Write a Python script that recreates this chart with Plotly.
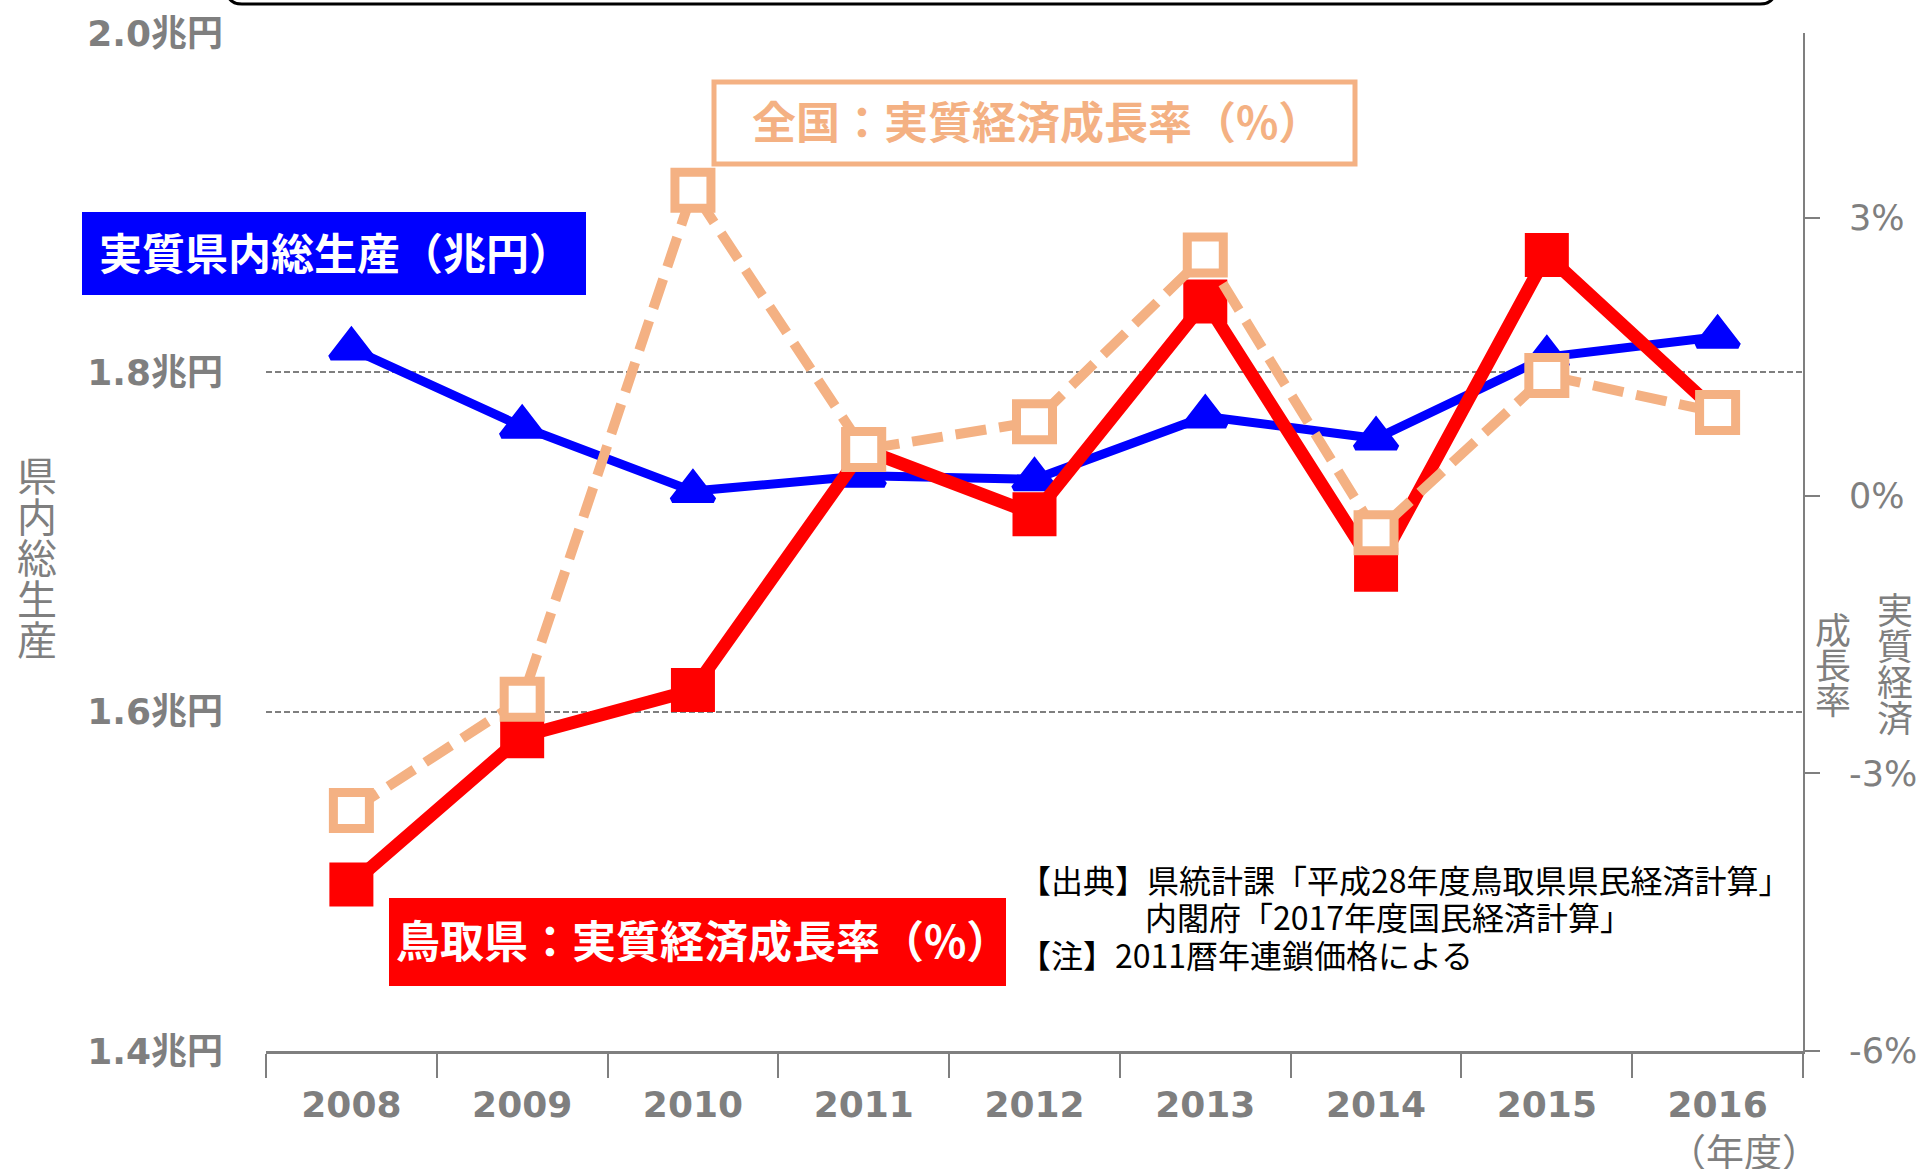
import plotly.graph_objects as go

# --- data ---
years = ["2008", "2009", "2010", "2011", "2012", "2013", "2014", "2015", "2016"]
gdp_trillion = [1.814, 1.768, 1.730, 1.739, 1.737, 1.774, 1.761, 1.809, 1.821]   # 実質県内総生産（兆円）
tottori_growth = [-4.2, -2.6, -2.1, 0.5, -0.2, 2.1, -0.8, 2.6, 0.9]            # 鳥取県 実質経済成長率（%）
japan_growth = [-3.4, -2.2, 3.3, 0.5, 0.8, 2.6, -0.4, 1.3, 0.9]                # 全国 実質経済成長率（%）

left_ticks = [1.4, 1.6, 1.8, 2.0]
left_labels = ["1.4兆円", "1.6兆円", "1.8兆円", "2.0兆円"]
right_ticks = [-6, -3, 0, 3]
right_labels = ["-6%", "-3%", "0%", "3%"]

W, H = 1926, 1169
PLOT_L, PLOT_R, PLOT_T, PLOT_B = 266, 1803, 33, 1051   # plot area in page pixels
L, T, R, B = PLOT_L, PLOT_T, W - PLOT_R, H - PLOT_B
PW, PH = PLOT_R - PLOT_L, PLOT_B - PLOT_T

GRAY = "#7f7f7f"
BLUE = "#0000FF"
RED = "#FF0000"
ORANGE = "#F4B183"
JP = "Noto Sans CJK JP"
NUM = "DejaVu Sans, Noto Sans CJK JP"


def px(x):
    return (x - PLOT_L) / PW


def py(y):
    return (PLOT_B - y) / PH


fig = go.Figure()

fig.add_trace(go.Scatter(
    x=years, y=gdp_trillion, yaxis="y", mode="lines+markers",
    line=dict(color=BLUE, width=9),
    marker=dict(symbol="triangle-up", size=36, color=BLUE,
                line=dict(color=BLUE, width=6)),
    cliponaxis=False, name="実質県内総生産"))

fig.add_trace(go.Scatter(
    x=years, y=tottori_growth, yaxis="y2", mode="lines+markers",
    line=dict(color=RED, width=13),
    marker=dict(symbol="square", size=44, color=RED),
    cliponaxis=False, name="鳥取県"))

fig.add_trace(go.Scatter(
    x=years, y=japan_growth, yaxis="y2", mode="lines+markers",
    line=dict(color=ORANGE, width=10, dash="31px,13px"),
    marker=dict(symbol="square", size=36, color="white",
                line=dict(color=ORANGE, width=9)),
    cliponaxis=False, name="全国"))

shapes = []
# partly visible rounded box at the very top
x0, x1, yb, r = px(227), px(1775), py(4), 15
shapes.append(dict(
    type="path", xref="paper", yref="paper",
    path=(f"M {x0},{py(-60)} L {x0},{py(4 - r)} "
          f"Q {x0},{yb} {px(227 + r)},{yb} L {px(1775 - r)},{yb} "
          f"Q {x1},{yb} {x1},{py(4 - r)} L {x1},{py(-60)}"),
    line=dict(color="black", width=3)))
# label boxes
shapes.append(dict(type="rect", xref="paper", yref="paper",
                   x0=px(82), x1=px(586), y0=py(295), y1=py(212),
                   fillcolor=BLUE, line=dict(width=0)))
shapes.append(dict(type="rect", xref="paper", yref="paper",
                   x0=px(714), x1=px(1355), y0=py(164), y1=py(82),
                   fillcolor="white", line=dict(color=ORANGE, width=5)))
shapes.append(dict(type="rect", xref="paper", yref="paper",
                   x0=px(389), x1=px(1006), y0=py(986), y1=py(898),
                   fillcolor=RED, line=dict(width=0)))

ann = []
ann.append(dict(text="実質県内総生産（兆円）", x=px(97), y=py(251), xanchor="left", yanchor="middle",
                font=dict(family=JP, size=43, color="white", weight="bold")))
ann.append(dict(text="全国：実質経済成長率（%）", x=px(750), y=py(120), xanchor="left", yanchor="middle",
                font=dict(family=JP, size=44, color=ORANGE, weight="bold")))
ann.append(dict(text="鳥取県：実質経済成長率（%）", x=px(394), y=py(939), xanchor="left", yanchor="middle",
                font=dict(family=JP, size=44, color="white", weight="bold")))

src_font = dict(family=JP, size=32, color="black")
ann.append(dict(text="【出典】県統計課「平成28年度鳥取県県民経済計算」", x=px(1017), y=py(879),
                xanchor="left", yanchor="middle", font=src_font))
ann.append(dict(text="内閣府「2017年度国民経済計算」", x=px(1143), y=py(916),
                xanchor="left", yanchor="middle", font=src_font))
ann.append(dict(text="【注】2011暦年連鎖価格による", x=px(1017), y=py(954),
                xanchor="left", yanchor="middle", font=src_font))

# vertical axis titles, one character per line
for i, ch in enumerate("県内総生産"):
    ann.append(dict(text=ch, x=px(37), y=py(474 + 41 * i), xanchor="center", yanchor="middle",
                    font=dict(family=JP, size=40, color=GRAY)))
right_font = dict(family=JP, size=36, color=GRAY)
for i, ch in enumerate("実質経済"):
    ann.append(dict(text=ch, x=px(1895), y=py(608 + 36 * i), xanchor="center", yanchor="middle",
                    font=right_font))
for i, ch in enumerate("成長率"):
    ann.append(dict(text=ch, x=px(1833), y=py(628 + 35 * i), xanchor="center", yanchor="middle",
                    font=right_font))
ann.append(dict(text="（年度）", x=px(1744), y=py(1149), xanchor="center", yanchor="middle",
                font=dict(family=JP, size=38, color=GRAY)))

for a in ann:
    a.update(xref="paper", yref="paper", showarrow=False)

fig.update_layout(
    width=W, height=H,
    margin=dict(l=L, r=R, t=T, b=B, pad=0),
    paper_bgcolor="white", plot_bgcolor="white",
    showlegend=False,
    shapes=shapes, annotations=ann,
    xaxis=dict(type="category", range=[-0.5, 8.5], showgrid=False, zeroline=False,
               showline=True, linecolor=GRAY, linewidth=3,
               ticks="outside", tickson="boundaries", ticklen=24, tickwidth=1.5, tickcolor=GRAY,
               tickfont=dict(family=NUM, size=36, color=GRAY, weight="bold"),
               ticklabelstandoff=20, automargin=False),
    yaxis=dict(range=[1.4, 2.0], tickvals=left_ticks, ticktext=left_labels,
               showgrid=True, gridcolor=GRAY, gridwidth=2, griddash="6px,3px",
               zeroline=False, showline=False, ticks="",
               tickfont=dict(family=NUM, size=36, color=GRAY, weight="bold"),
               ticklabelstandoff=42, automargin=False),
    yaxis2=dict(range=[-6, 5], overlaying="y", side="right", tickvals=right_ticks, ticktext=right_labels,
                showgrid=False, zeroline=False, showline=True, linecolor=GRAY, linewidth=2,
                ticks="outside", ticklen=15, tickwidth=1.5, tickcolor=GRAY,
                tickfont=dict(family=NUM, size=35, color=GRAY),
                ticklabelstandoff=22, automargin=False),
)

# drop the default 8px page margin so the figure sits at the page corner
fig.write_html("out.html", config={"displayModeBar": False},
               post_script="document.body.style.margin='0';")
